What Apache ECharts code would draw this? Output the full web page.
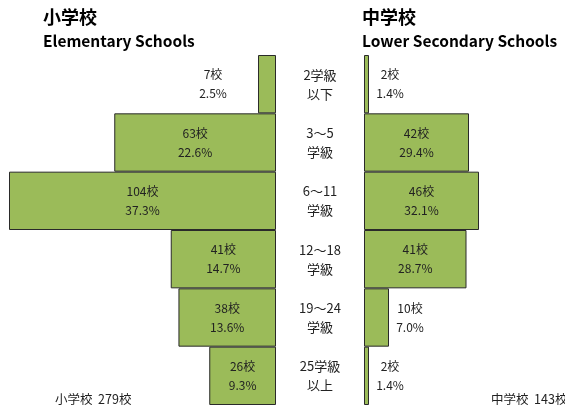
<!DOCTYPE html>
<html>
<head>
<meta charset="utf-8">
<script src="https://cdn.jsdelivr.net/npm/echarts@6/dist/echarts.min.js"></script>
<style>
  html, body { margin: 0; padding: 0; background: #fff; }
  #chart { width: 565px; height: 405px; }
</style>
</head>
<body>
<div id="chart"></div>
<script>
// 学級規模別の学校数
var classSizes = ["2学級\n以下", "3～5\n学級", "6～11\n学級", "12～18\n学級", "19～24\n学級", "25学級\n以上"];
var elemCounts = [7, 63, 104, 41, 38, 26];
var elemPct = [2.5, 22.6, 37.3, 14.7, 13.6, 9.3];
var lowerCounts = [2, 42, 46, 41, 10, 2];
var lowerPct = [1.4, 29.4, 32.1, 28.7, 7.0, 1.4];
var elemTotal = 279;
var lowerTotal = 143;

var font = "'Noto Sans CJK JP', 'Noto Sans', sans-serif";
var green = "#9bbb59";

// 小さい棒はラベルを外側へ
function buildData(counts, pct, outsidePos, dist) {
  return counts.map(function (v, i) {
    var item = { value: v, pct: pct[i] };
    if (v < 20) {
      item.label = { position: outsidePos, distance: dist };
    }
    return item;
  });
}

var labelCfg = {
  show: true,
  position: "inside",
  formatter: function (p) {
    return "{a|" + p.value + "校}\n{a|" + p.data.pct.toFixed(1) + "%}";
  },
  rich: {
    a: {
      width: 36,
      align: "center",
      fontSize: 12,
      lineHeight: 19,
      color: "#222",
      fontFamily: font,
    },
  },
};

var chart = echarts.init(document.getElementById("chart"));
var option = {
  animation: false,
  title: [
    { text: "小学校", left: 38, top: 3, textStyle: { fontSize: 18, fontWeight: "bold", color: "#000", fontFamily: font } },
    { text: "Elementary Schools", left: 38, top: 28, textStyle: { fontSize: 15.5, fontWeight: "bold", color: "#000", fontFamily: font } },
    { text: "中学校", left: 357, top: 3, textStyle: { fontSize: 18, fontWeight: "bold", color: "#000", fontFamily: font } },
    { text: "Lower Secondary Schools", left: 357, top: 28, textStyle: { fontSize: 15.5, fontWeight: "bold", color: "#000", fontFamily: font } },
    { text: "小学校  " + elemTotal + "校", left: 50, top: 388, textStyle: { fontSize: 12.5, fontWeight: "normal", color: "#222", fontFamily: font } },
    { text: "中学校  " + lowerTotal + "校", left: 486, top: 388, textStyle: { fontSize: 12.5, fontWeight: "normal", color: "#222", fontFamily: font } },
  ],
  grid: [
    { left: 9, top: 55, width: 267, height: 352 },
    { left: 364, top: 55, width: 200, height: 352 },
  ],
  xAxis: [
    { gridIndex: 0, type: "value", min: 0, max: 104, inverse: true, show: false },
    { gridIndex: 1, type: "value", min: 0, max: 80, show: false },
  ],
  yAxis: [
    { gridIndex: 0, type: "category", data: classSizes, inverse: true, show: false },
    {
      gridIndex: 1,
      type: "category",
      data: classSizes,
      inverse: true,
      axisLine: { show: false },
      axisTick: { show: false },
      axisLabel: {
        align: "center",
        margin: 44,
        fontSize: 13,
        lineHeight: 19,
        color: "#222",
        fontFamily: font,
      },
    },
  ],
  series: [
    {
      name: "小学校",
      type: "bar",
      xAxisIndex: 0,
      yAxisIndex: 0,
      barCategoryGap: "0%",
      itemStyle: { color: green, borderColor: "#2a2a2a", borderWidth: 1 },
      label: labelCfg,
      data: buildData(elemCounts, elemPct, "left", 27),
    },
    {
      name: "中学校",
      type: "bar",
      xAxisIndex: 1,
      yAxisIndex: 1,
      barCategoryGap: "0%",
      itemStyle: { color: green, borderColor: "#2a2a2a", borderWidth: 1 },
      label: labelCfg,
      data: buildData(lowerCounts, lowerPct, "right", 3),
    },
  ],
};
chart.setOption(option);
</script>
</body>
</html>
